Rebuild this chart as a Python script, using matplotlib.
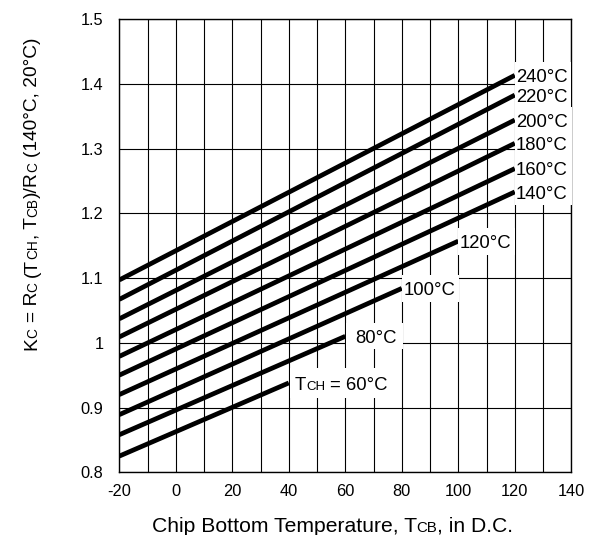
import numpy as np
import matplotlib
matplotlib.use("Agg")
import matplotlib.pyplot as plt
from matplotlib.font_manager import FontProperties
from matplotlib.patches import Rectangle

FAMILY = ['Liberation Sans', 'DejaVu Sans']
plt.rcParams['font.family'] = FAMILY
plt.rcParams['axes.unicode_minus'] = False

# ---------------- data ----------------
tch = [60, 80, 100, 120, 140, 160, 180, 200, 220, 240]          # chip top temperature (curve parameter)
tcb_start = [-20, -20, -20, -20, -20, -20, -20, -20, -20, -20]    # chip bottom temperature at curve start
tcb_end = [40, 60, 80, 100, 120, 120, 120, 120, 120, 120]         # chip bottom temperature at curve end
kc_start = [0.825, 0.858, 0.889, 0.920, 0.950, 0.979, 1.009, 1.037, 1.067, 1.097]
kc_end = [0.938, 1.010, 1.084, 1.157, 1.233, 1.269, 1.308, 1.344, 1.3825, 1.413]
x_ticks = [-20, 0, 20, 40, 60, 80, 100, 120, 140]
x_grid = [-20, -10, 0, 10, 20, 30, 40, 50, 60, 70, 80, 90, 100, 110, 120, 130, 140]
y_ticks = [0.8, 0.9, 1.0, 1.1, 1.2, 1.3, 1.4, 1.5]
y_tick_labels = ['0.8', '0.9', '1', '1.1', '1.2', '1.3', '1.4', '1.5']

# ---------------- layout (pixels) ----------------
W, H, DPI = 592, 535, 100
BIG, SMALL, TICK = 13.3, 9.5, 11.8
XL_BIG, XL_SMALL = 15.2, 10.8
YL_BIG, YL_SMALL = 13.8, 9.8
# per-curve label: gap from line end to text, box pad left, box pad right, box half height
label_gap = [6, 10, 2, 1, 1, 1, 1, 1, 1, 1]
box_padl = [5, 9, 2, 1, 1, 1, 1, 1, 1, 1]
box_padr = [9, 6, 3, 4, 4, 4, 4, 4, 4, 4]
box_half = [15, 13, 13.5, 13.5, 13.5, 13.5, 13.5, 13.5, 13.5, 13.5]

fig = plt.figure(figsize=(W / DPI, H / DPI), dpi=DPI)
fig.patch.set_facecolor('white')
L, R, T, B = 119.3, 571.3, 19.0, 472.3
ax = fig.add_axes([L / W, 1 - B / H, (R - L) / W, (B - T) / H])
ax.set_xlim(-20, 140)
ax.set_ylim(0.8, 1.5)
ax.set_xticks(x_ticks)
ax.set_xticks(x_grid, minor=True)
ax.set_yticks(y_ticks)
ax.set_yticklabels(y_tick_labels)
ax.tick_params(which='both', length=0)
ax.tick_params(axis='x', pad=8.2, labelsize=TICK)
ax.tick_params(axis='y', pad=11.3, labelsize=TICK)
ax.grid(which='both', color='black', lw=0.8)
ax.set_axisbelow(True)
for s in ax.spines.values():
    s.set_linewidth(1.0)

for xs, xe, ks, ke in zip(tcb_start, tcb_end, kc_start, kc_end):
    ax.plot([xs, xe], [ks, ke], color='black', lw=3.4, solid_capstyle='butt', zorder=2)

renderer = fig.canvas.get_renderer()


def adv(s, size):
    if not s:
        return 0.0
    prop = FontProperties(family=FAMILY, size=size)
    w1 = renderer.get_text_width_height_descent('|' + s + '|', prop, ismath=False)[0]
    w0 = renderer.get_text_width_height_descent('||', prop, ismath=False)[0]
    return w1 - w0


def rich_len(pieces):
    return sum(adv(s, size) for s, size in pieces)


def rich(x, y, pieces, rotation=0):
    """Draw text pieces (string, size) sharing one baseline; x, y are display px."""
    pos = 0.0
    for s, size in pieces:
        stripped = s.lstrip(' ')
        pos += adv(s[:len(s) - len(stripped)], size)
        if rotation == 0:
            px, py = x + pos, y
        else:
            px, py = x, y + pos
        fig.text(px / W, py / H, stripped, fontsize=size, family=FAMILY,
                 rotation=rotation, rotation_mode='anchor',
                 ha='left', va='baseline', zorder=3, color='black')
        pos += adv(stripped, size)
    return pos


cap_half = 0.716 * BIG * DPI / 72 / 2

for i, t in enumerate(tch):
    if i == 0:
        pieces = [('T', BIG), ('CH', SMALL), (f' = {t}°C', BIG)]
    else:
        pieces = [(f'{t}°C', BIG)]
    ex, ey = ax.transData.transform((tcb_end[i], kc_end[i]))
    x0 = ex + label_gap[i]
    length = rich_len(pieces)
    fig.patches.append(Rectangle(((x0 - box_padl[i]) / W, (ey - box_half[i]) / H),
                                 (length + box_padl[i] + box_padr[i]) / W,
                                 2 * box_half[i] / H,
                                 transform=fig.transFigure, facecolor='white',
                                 edgecolor='none', zorder=1))
    rich(x0, ey - cap_half, pieces)

# axis labels
xl = [('Chip Bottom Temperature, T', XL_BIG), ('CB', XL_SMALL), (', in D.C.', XL_BIG)]
xlen = rich_len(xl)
rich(332.5 - xlen / 2, 535 - 531.5, xl)

yl = [('K', YL_BIG), ('C', YL_SMALL), (' = R', YL_BIG), ('C', YL_SMALL), (' (T', YL_BIG),
      ('CH', YL_SMALL), (', T', YL_BIG), ('CB', YL_SMALL), (')/R', YL_BIG), ('C', YL_SMALL),
      (' (140°C, 20°C)', YL_BIG)]
ylen = rich_len(yl)
rich(36.8, (535 - 194) - ylen / 2, yl, rotation=90)

fig.savefig('out.png', dpi=DPI, facecolor='white')
